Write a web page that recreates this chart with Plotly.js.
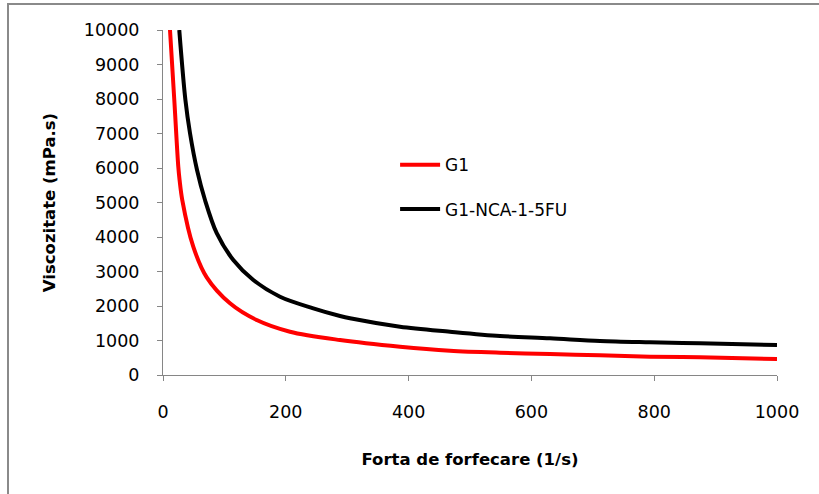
<!DOCTYPE html>
<html>
<head>
<meta charset="utf-8">
<script src="https://cdn.plot.ly/plotly-3.0.1.min.js"></script>
<style>
  html, body { margin: 0; padding: 0; background: #ffffff; }
  #chart { position: absolute; left: 0; top: 0; width: 819px; height: 494px; }
  #frame { position: absolute; left: 7px; top: 3px; width: 812px; height: 491px;
           border-top: 2px solid #8a8a8a; border-left: 2px solid #8a8a8a;
           box-sizing: border-box; pointer-events: none; }
</style>
</head>
<body>
<div id="chart"></div>
<div id="frame"></div>
<script>
// Shear rate (1/s) and viscosity (mPa.s)
const g1Shear = [11.4, 18.4, 24.9, 27, 31.4, 49.3, 71.2, 109.1, 152.6, 206.8, 288.3, 386, 467.4, 548.9, 630.3, 711.7, 793.2, 874.6, 1000];
const g1Visc  = [10000, 7971, 6038, 5652, 5072, 3719, 2830, 2078, 1594, 1255, 1014, 820, 704, 646, 609, 571, 530, 513, 464];

const g1ncaShear = [26.5, 36.5, 44.0, 55.4, 68.4, 87.5, 114.5, 147.1, 190.6, 244.8, 288.3, 304.6, 386, 467.4, 548.9, 630.3, 711.7, 793.2, 874.6, 1000];
const g1ncaVisc  = [10000, 7971, 7006, 5942, 5072, 4110, 3333, 2754, 2270, 1933, 1710, 1643, 1400, 1255, 1130, 1064, 986, 948, 919, 870];

const seriesNames = ["G1", "G1-NCA-1-5FU"];
const xTicks = [0, 200, 400, 600, 800, 1000];
const yTicks = [0, 1000, 2000, 3000, 4000, 5000, 6000, 7000, 8000, 9000, 10000];

const FONT = "DejaVu Sans, Verdana, sans-serif";
const AXIS_GRAY = "#868686";

const traces = [
  { x: g1Shear, y: g1Visc, name: seriesNames[0], type: "scatter", mode: "lines",
    line: { color: "#ff0000", width: 4, shape: "spline", smoothing: 0.9 }, legendgroup: "a" },
  { x: g1ncaShear, y: g1ncaVisc, name: seriesNames[1], type: "scatter", mode: "lines",
    line: { color: "#000000", width: 4, shape: "spline", smoothing: 0.9 }, legendgroup: "b" }
];

const layout = {
  width: 819, height: 494,
  margin: { l: 163, r: 42, t: 30, b: 119 },
  paper_bgcolor: "#ffffff", plot_bgcolor: "#ffffff",
  font: { family: FONT, size: 17, color: "#000000" },
  showlegend: true,
  legend: {
    x: 0.378, y: 0.66, xanchor: "left", yanchor: "top",
    bgcolor: "rgba(0,0,0,0)", borderwidth: 0,
    font: { family: FONT, size: 17, color: "#000000" },
    tracegroupgap: 19, itemwidth: 40
  },
  xaxis: {
    range: [0, 1000], tickvals: xTicks, ticktext: xTicks.map(String),
    showgrid: false, zeroline: false, showline: true,
    linecolor: AXIS_GRAY, linewidth: 1,
    ticks: "outside", ticklen: 5, tickcolor: AXIS_GRAY, tickwidth: 1,
    ticklabelstandoff: 16,
    tickfont: { family: FONT, size: 17.5, color: "#000000" },
    title: { text: "Forta de forfecare (1/s)", standoff: 32,
             font: { family: FONT, size: 16.5, color: "#000000", weight: "bold" } }
  },
  yaxis: {
    range: [0, 10000], tickvals: yTicks, ticktext: yTicks.map(String),
    showgrid: false, zeroline: false, showline: true,
    linecolor: AXIS_GRAY, linewidth: 1,
    ticks: "outside", ticklen: 5, tickcolor: AXIS_GRAY, tickwidth: 1,
    ticklabelstandoff: 14,
    tickfont: { family: FONT, size: 17.5, color: "#000000" },
    title: { text: "Viscozitate (mPa.s)", standoff: 24,
             font: { family: FONT, size: 16.5, color: "#000000", weight: "bold" } }
  }
};

Plotly.newPlot("chart", traces, layout, { displayModeBar: false, staticPlot: true });
</script>
</body>
</html>
